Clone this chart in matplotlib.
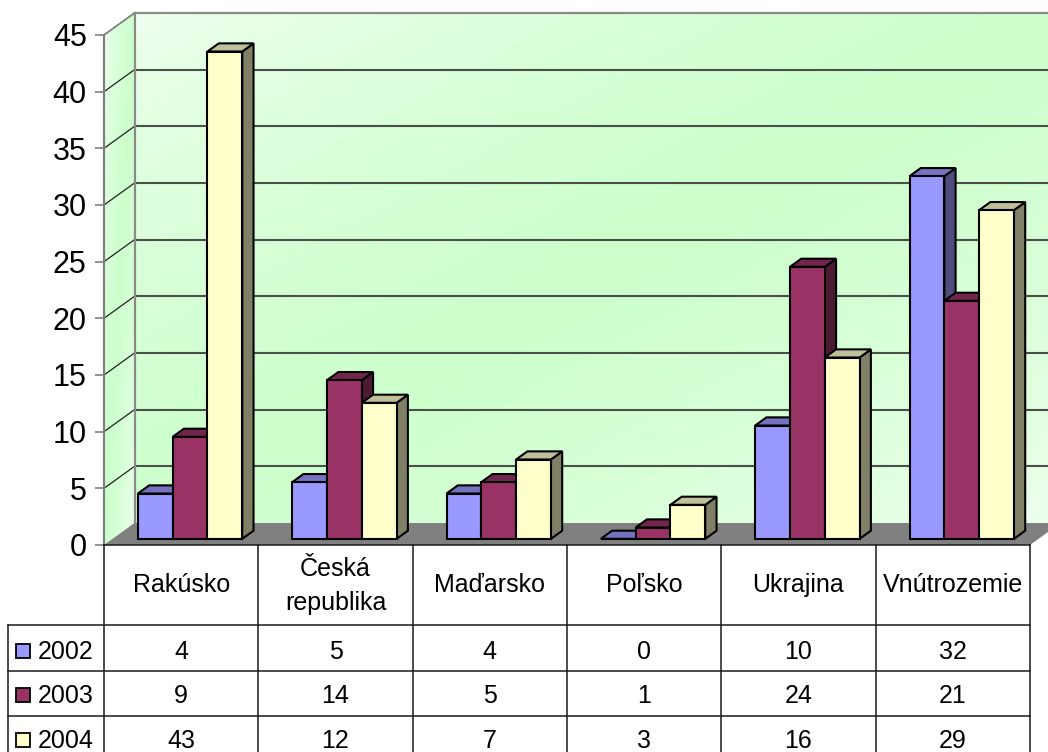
import matplotlib
matplotlib.use('Agg')
import matplotlib.pyplot as plt
import numpy as np
from matplotlib.patches import Polygon, Rectangle
from matplotlib.lines import Line2D
from matplotlib.transforms import Affine2D, blended_transform_factory

# ---------------- data ----------------
categories = ['Rakúsko', 'Česká\nrepublika', 'Maďarsko', 'Poľsko', 'Ukrajina', 'Vnútrozemie']
years = ['2002', '2003', '2004']
v2002 = [4, 5, 4, 0, 10, 32]
v2003 = [9, 14, 5, 1, 24, 21]
v2004 = [43, 12, 7, 3, 16, 29]
yticks = [0, 5, 10, 15, 20, 25, 30, 35, 40, 45]

series = [v2002, v2003, v2004]
front_cols = ['#9999FF', '#993366', '#FFFFCC']

plt.rcParams['font.family'] = ['Liberation Sans', 'DejaVu Sans']

W, H = 1048, 752
fig = plt.figure(figsize=(W / 100, H / 100), dpi=100)
fig.patch.set_facecolor('white')

# front plane in pixels (y from top)
L, R, B, T = 104, 1030, 545, 35
ax = fig.add_axes([L / W, 1 - B / H, (R - L) / W, (B - T) / H])
ax.set_facecolor('none')
ncat = len(categories)
ymax = yticks[-1]

sx = (R - L) / ncat
sy = (B - T) / ymax
DX = 30.5 / sx
DY = 22.0 / sy

def shade(c, f):
    c = np.array(matplotlib.colors.to_rgb(c))
    return tuple(c * f)

light = np.array([0.95, 1.0, 0.95])
green = np.array([0.80, 1.0, 0.80])

def grad_img(n, m):
    u = np.linspace(0, 1, m)[None, :]
    v = np.linspace(0, 1, n)[:, None]
    t = (u + v) / 2
    f = 1 - np.abs(2 * t - 1)
    f = np.clip(f, 0, 1) ** 0.6
    img = light[None, None, :] + (green - light)[None, None, :] * f[:, :, None]
    return img

# back wall
back = Polygon([(DX, DY), (ncat + DX, DY), (ncat + DX, ymax + DY), (DX, ymax + DY)],
               closed=True, fc='none', ec='none', transform=ax.transData)
ax.add_patch(back)
im = ax.imshow(grad_img(200, 400), extent=[DX, ncat + DX, DY, ymax + DY],
               origin='upper', aspect='auto', zorder=0, interpolation='bilinear')
im.set_clip_box(fig.bbox)
im.set_clip_path(back)

# side wall
side = Polygon([(0, 0), (DX, DY), (DX, ymax + DY), (0, ymax)], closed=True,
               fc='none', ec='none', transform=ax.transData)
ax.add_patch(side)
im2 = ax.imshow(grad_img(200, 40), extent=[0, DX, 0, ymax + DY],
                origin='upper', aspect='auto', zorder=0, interpolation='bilinear')
im2.set_clip_box(fig.bbox)
im2.set_clip_path(side)

# gridlines
for v in yticks[1:-1]:
    ax.add_line(Line2D([DX, ncat + DX], [v + DY, v + DY], color='#4a4f4a', lw=1.5,
                       zorder=1, clip_on=False))
for v in yticks[1:]:
    ax.add_line(Line2D([0, DX], [v, v + DY], color='#222222', lw=0.9,
                       zorder=1, clip_on=False))
# wall borders
ax.add_line(Line2D([DX, ncat + DX], [ymax + DY, ymax + DY], color='#8a8a8a', lw=1.6,
                   zorder=1, clip_on=False))
ax.add_line(Line2D([DX, DX], [DY, ymax + DY], color='#8a8a8a', lw=1.6,
                   zorder=1, clip_on=False))
ax.add_line(Line2D([0, DX], [ymax, ymax + DY], color='#8a8a8a', lw=1.2,
                   zorder=1, clip_on=False))

# floor
ax.add_patch(Polygon([(0, 0), (ncat, 0), (ncat + DX, DY), (DX, DY)], closed=True,
                     fc='#808080', ec='none', zorder=2, clip_on=False))

# bars
off = 0.164
bw = 0.2255
d0 = 0.28
bd = 0.37
bdx, bdy = bd * DX, bd * DY
z = 3
for i in range(ncat):
    for j, vals in enumerate(series):
        h = vals[i]
        c = front_cols[j]
        x0 = i + off + j * bw + d0 * DX
        y0 = d0 * DY
        sidep = Polygon([(x0 + bw, y0), (x0 + bw + bdx, y0 + bdy),
                         (x0 + bw + bdx, y0 + h + bdy), (x0 + bw, y0 + h)], closed=True,
                        fc=shade(c, 0.5), ec='black', lw=1.5, joinstyle='miter',
                        zorder=z, clip_on=False)
        topp = Polygon([(x0, y0 + h), (x0 + bw, y0 + h), (x0 + bw + bdx, y0 + h + bdy),
                        (x0 + bdx, y0 + h + bdy)], closed=True,
                       fc=shade(c, 0.75), ec='black', lw=1.5, joinstyle='miter',
                       zorder=z, clip_on=False)
        fr = Rectangle((x0, y0), bw, h, fc=c, ec='black', lw=1.5, joinstyle='miter',
                       zorder=z + 0.5, clip_on=False)
        ax.add_patch(sidep)
        ax.add_patch(topp)
        ax.add_patch(fr)
        z += 1

ax.set_xlim(0, ncat)
ax.set_ylim(0, ymax)
ax.set_xticks([])
ax.set_yticks(yticks)
ax.set_yticklabels([str(t) for t in yticks])
for s in ['top', 'right', 'bottom']:
    ax.spines[s].set_visible(False)
ax.spines['left'].set_color('#808080')
ax.spines['left'].set_linewidth(1.6)
ax.spines['left'].set_zorder(50)
ax.tick_params(axis='y', direction='out', length=6.5, width=1.2, color='#808080',
               labelsize=22, pad=6, labelcolor='black')

# ---------------- data table ----------------
pix = Affine2D().scale(1 / W, -1 / H).translate(0, 1) + fig.transFigure
bt = blended_transform_factory(ax.transData, pix)

line_kw = dict(color='#1a1a1a', lw=1.1, clip_on=False, zorder=60)
header_bottom = 625
row_lines = [625, 671, 716]
leg_left_px = 8
leg_left = (leg_left_px - L) / sx

fig.add_artist(Line2D([0, ncat], [B, B], transform=bt, **line_kw))
for k in range(ncat + 1):
    fig.add_artist(Line2D([k, k], [B, H], transform=bt, **line_kw))
for y in row_lines:
    fig.add_artist(Line2D([leg_left, ncat], [y, y], transform=bt, **line_kw))
fig.add_artist(Line2D([leg_left, leg_left], [header_bottom, H], transform=bt, **line_kw))

fs = 18
for i, cat in enumerate(categories):
    if '\n' in cat:
        a, b2 = cat.split('\n')
        fig.text(i + 0.5, 576, a, transform=bt, ha='center', va='baseline', fontsize=fs)
        fig.text(i + 0.5, 610, b2, transform=bt, ha='center', va='baseline', fontsize=fs)
    else:
        fig.text(i + 0.5, 592, cat, transform=bt, ha='center', va='baseline', fontsize=fs)

baselines = [659, 703, 748]
for j, (yr, vals) in enumerate(zip(years, series)):
    yb = baselines[j]
    fig.add_artist(Rectangle((16, yb - 15), 14, 14, transform=pix, fc=front_cols[j],
                             ec='black', lw=1.3, zorder=60))
    fig.text(38, yb, yr, transform=pix, ha='left', va='baseline', fontsize=fs)
    for i, v in enumerate(vals):
        fig.text(i + 0.5, yb, str(v), transform=bt, ha='center', va='baseline', fontsize=fs)

fig.savefig('out.png', dpi=100, facecolor='white')
